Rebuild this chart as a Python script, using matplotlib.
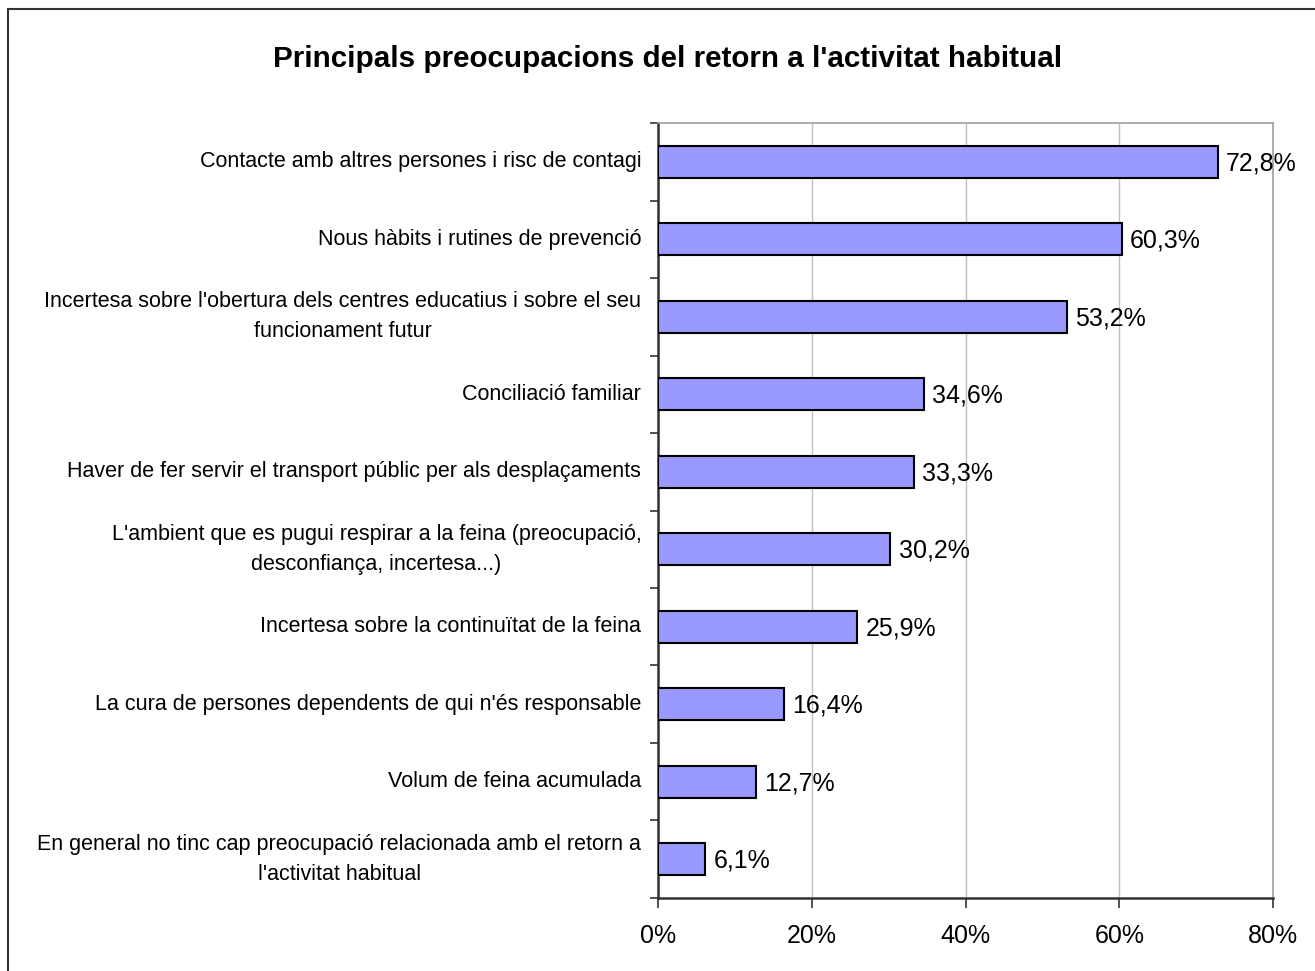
import numpy as np
import matplotlib
matplotlib.use("Agg")
import matplotlib.pyplot as plt
from matplotlib.patches import Rectangle

plt.rcParams['font.family'] = ['Liberation Sans', 'DejaVu Sans']

categories = [
    "Contacte amb altres persones i risc de contagi",
    "Nous hàbits i rutines de prevenció",
    "Incertesa sobre l'obertura dels centres educatius i sobre el seu\nfuncionament futur",
    "Conciliació familiar",
    "Haver de fer servir el transport públic per als desplaçaments",
    "L'ambient que es pugui respirar a la feina (preocupació,\ndesconfiança, incertesa...)",
    "Incertesa sobre la continuïtat de la feina",
    "La cura de persones dependents de qui n'és responsable",
    "Volum de feina acumulada",
    "En general no tinc cap preocupació relacionada amb el retorn a\nl'activitat habitual",
]
values = [72.8, 60.3, 53.2, 34.6, 33.3, 30.2, 25.9, 16.4, 12.7, 6.1]
xticks = [0, 20, 40, 60, 80]

fig = plt.figure(figsize=(13.15, 9.71), dpi=100)
ax = fig.add_axes([0.5004, 0.0752, 0.4677, 0.7981])

n = len(categories)
ypos = np.arange(n)
ax.barh(ypos, values, height=0.41, color='#9999FF', edgecolor='black',
        linewidth=1.5, zorder=3)

for y, v in zip(ypos, values):
    ax.text(v + 1.1, y + 0.02, ('%.1f%%' % v).replace('.', ','), ha='left',
            va='center', fontsize=18, zorder=4)

ax.set_ylim(n - 0.5, -0.5)
ax.set_xlim(0, 80)
ax.set_xticks(xticks)
ax.set_xticklabels(['%d%%' % t for t in xticks], fontsize=18)
ax.xaxis.grid(True, color='#c0c0c0', linewidth=1, zorder=0)

ax.set_yticks(np.arange(n + 1) - 0.5)
ax.set_yticklabels([])
ax.set_yticks(ypos, minor=True)
ax.set_yticklabels(categories, minor=True, fontsize=15.5, ha='right',
                   va='center', multialignment='center', linespacing=1.55)
ax.tick_params(axis='y', which='minor', length=0, pad=12)
ax.tick_params(axis='y', which='major', length=6, width=1.2, color='#333333')
ax.tick_params(axis='x', length=7, width=1.2, color='#333333', pad=12)

for s in ['left', 'bottom']:
    ax.spines[s].set_color('#333333')
    ax.spines[s].set_linewidth(1.8)
for s in ['top', 'right']:
    ax.spines[s].set_color('#a0a0a0')
    ax.spines[s].set_linewidth(1.2)

fig.text(0.5076, 0.939, "Principals preocupacions del retorn a l'activitat habitual",
         ha='center', va='center', fontsize=21.3, fontweight='bold')

fig.patches.append(Rectangle((8 / 1315, -0.01), 1.5, 1 - 9 / 971 + 0.01,
                             transform=fig.transFigure, fill=False,
                             edgecolor='#333333', linewidth=1.5))

fig.savefig('out.png', dpi=100)
